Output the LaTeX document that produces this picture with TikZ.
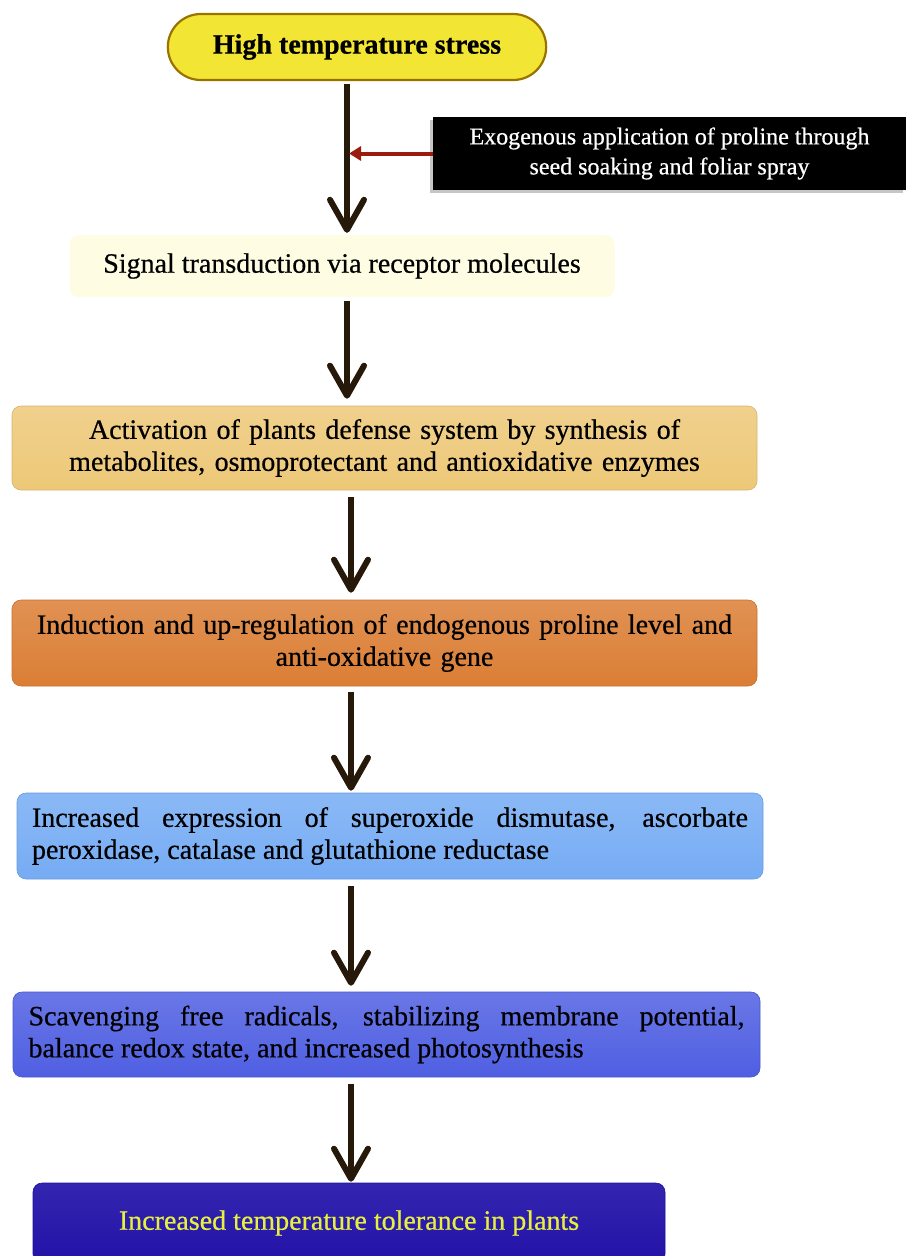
\documentclass[tikz,border=0pt]{standalone}
\usepackage{fontspec}
\setmainfont[FakeBold=0.6]{Liberation Serif}
\usetikzlibrary{arrows.meta,positioning,shapes.misc,shadows}

\definecolor{stressyellow}{HTML}{F3E533}
\definecolor{stressrim}{HTML}{9A7200}
\definecolor{signalcream}{HTML}{FEFCE2}
\definecolor{defensetan}{HTML}{EDC878}
\definecolor{inductorange}{HTML}{DB7E35}
\definecolor{enzymeblue}{HTML}{76ACF4}
\definecolor{scavengeblue}{HTML}{4F5FE2}
\definecolor{toleranceblue}{HTML}{2212A8}
\definecolor{tolerancetext}{HTML}{E8F03E}
\definecolor{flowbrown}{HTML}{26190A}
\definecolor{pushred}{HTML}{9B1B0F}

\begin{document}
\begin{tikzpicture}[x=1pt,y=-1pt,
    boxtext/.style={font=\fontsize{28}{32}\selectfont},
    stepbox/.style={rectangle,rounded corners=9pt,boxtext,inner sep=0pt,
      top color=#1!85!white,bottom color=#1,draw=#1!90!black,line width=0.6pt},
    centerbox/.style={align=center,text width=728pt},
    justbox/.style={align=justify,text width=716pt,
      execute at begin node={\tolerance=9999\hyphenpenalty=10000\emergencystretch=2em}},
    flow/.style={draw=flowbrown,line width=6pt,
      -{Straight Barb[length=30pt,width=34pt,round]}},
    push/.style={draw=pushred,line width=4pt,-{Triangle[length=12pt,width=14pt]}}]

  \useasboundingbox (0,0) rectangle (906,1256);

  % stress and treatment
  \node[rounded rectangle,fill=stressyellow,draw=stressrim,line width=2.2pt,
    minimum width=385pt,minimum height=66pt,
    font=\fontsize{28}{32}\selectfont\bfseries] (stress) at (357,47)
    {High temperature stress};
  \node[rectangle,fill=black,text=white,minimum width=473pt,minimum height=73pt,
    align=center,font=\fontsize{24}{30}\selectfont,
    drop shadow={opacity=0.45,shadow xshift=-3pt,shadow yshift=-3pt}] (proline)
    at (669.5,153.5)
    {Exogenous application of proline through\\ seed soaking and foliar spray};

  % response chain
  \node[rectangle,rounded corners=9pt,fill=signalcream,boxtext,
    minimum width=545pt,minimum height=62pt] (signal) at (342,266)
    {Signal transduction via receptor molecules};
  \node[stepbox=defensetan,centerbox,minimum width=745pt,minimum height=84pt]
    (defense) at (384.5,448)
    {Activation of plants defense system by synthesis of\\
     metabolites, osmoprotectant and antioxidative enzymes};
  \node[stepbox=inductorange,centerbox,minimum width=745pt,minimum height=86pt]
    (induction) at (384.5,643)
    {Induction and up-regulation of endogenous proline level and\\
     anti-oxidative gene};
  \node[stepbox=enzymeblue,justbox,minimum width=746pt,minimum height=86pt]
    (enzymes) at (390,836)
    {Increased expression of superoxide dismutase, ascorbate
     peroxidase, catalase and glutathione reductase};
  \node[stepbox=scavengeblue,justbox,minimum width=747pt,minimum height=85pt]
    (scavenge) at (386.5,1034.5)
    {Scavenging free radicals, stabilizing membrane potential,
     balance redox state, and increased photosynthesis};
  \node[stepbox=toleranceblue,top color=toleranceblue!92!white,text=tolerancetext,
    minimum width=632pt,minimum height=80pt] (tolerance) at (349,1223)
    {Increased temperature tolerance in plants};

  % arrows
  \coordinate (spine) at (347,0);
  \coordinate (lowspine) at (351,0);
  \draw[flow,shorten <=3pt,shorten >=2pt] (stress.south -| spine) -- (signal.north -| spine);
  \draw[flow,shorten <=4pt,shorten >=7pt] (signal.south -| spine) -- (defense.north -| spine);
  \draw[flow,shorten <=7pt,shorten >=7pt] (defense.south -| lowspine) -- (induction.north -| lowspine);
  \draw[flow,shorten <=6pt,shorten >=2pt] (induction.south -| lowspine) -- (enzymes.north -| lowspine);
  \draw[flow,shorten <=7pt,shorten >=6pt] (enzymes.south -| lowspine) -- (scavenge.north -| lowspine);
  \draw[flow,shorten <=7pt,shorten >=1pt] (scavenge.south -| lowspine) -- (tolerance.north -| lowspine);
  \draw[push,shorten >=2pt] (proline.west) -- (proline.west -| spine);

\end{tikzpicture}
\end{document}
